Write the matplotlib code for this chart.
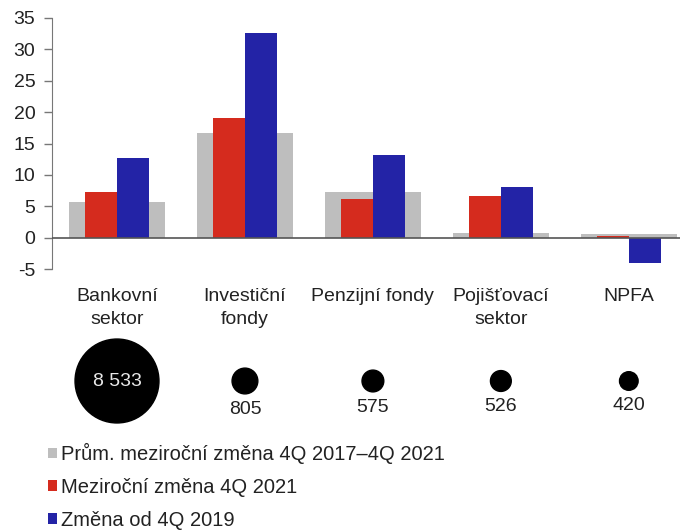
import matplotlib
matplotlib.use("Agg")
import matplotlib.pyplot as plt
import numpy as np

plt.rcParams["font.family"] = ["Liberation Sans", "DejaVu Sans"]
plt.rcParams["axes.unicode_minus"] = False

# data
sectors = ["Bankovní\nsektor", "Investiční\nfondy", "Penzijní fondy", "Pojišťovací\nsektor", "NPFA"]
avg_change = [5.6, 16.7, 7.2, 0.8, 0.5]      # Prům. meziroční změna 4Q 2017–4Q 2021
yoy_2021 = [7.2, 19.1, 6.2, 6.7, 0.3]        # Meziroční změna 4Q 2021
since_2019 = [12.7, 32.6, 13.2, 8.0, -4.0]   # Změna od 4Q 2019
assets = [8533, 805, 575, 526, 420]
asset_labels = ["8 533", "805", "575", "526", "420"]

legend_labels = ["Prům. meziroční změna 4Q 2017–4Q 2021",
                 "Meziroční změna 4Q 2021",
                 "Změna od 4Q 2019"]

GREY, RED, BLUE = "#bebebe", "#d52b1e", "#2323a6"
TXT = "#222222"
FS = 14

W, H = 681, 532
fig = plt.figure(figsize=(W / 100, H / 100), dpi=100)

# main bar axes
ax = fig.add_axes([52 / W, 1 - 269 / H, 628 / W, 251 / H])
x = np.arange(len(sectors))
b0 = ax.bar(x, avg_change, width=0.75, color=GREY, zorder=1)
b1 = ax.bar(x - 0.125, yoy_2021, width=0.25, color=RED, zorder=2)
b2 = ax.bar(x + 0.125, since_2019, width=0.25, color=BLUE, zorder=2)
ax.axhline(0, color="#555555", lw=1.2, zorder=3)

ax.set_xlim(-0.508, 4.4)
ax.set_ylim(-5, 35)
ax.set_yticks(range(-5, 40, 5))
ax.set_xticks(x)
ax.set_xticklabels(sectors, fontsize=FS, color=TXT, linespacing=1.4)
ax.tick_params(axis="x", length=0, pad=14)
ax.tick_params(axis="y", length=6, width=1, color="#777777", labelsize=FS,
               labelcolor=TXT, pad=6)
for s in ["top", "right", "bottom"]:
    ax.spines[s].set_visible(False)
ax.spines["left"].set_color("#777777")

# bubble axes
bx = fig.add_axes([52 / W, 1 - 426 / H, 628 / W, 90 / H], sharex=ax)
bx.set_ylim(-1, 1)
bx.axis("off")
sizes = 0.428 * np.array(assets)
bx.scatter(x, np.zeros_like(x), s=sizes, color="black", zorder=2)
for i, (v, lab) in enumerate(zip(sizes, asset_labels)):
    r = np.sqrt(v) / 2
    if i == 0:
        bx.text(x[i], 0, lab, color="#e8e8e8", fontsize=FS, ha="center", va="center")
    else:
        bx.annotate(lab, (x[i], 0), xytext=(0, -(r + 5)), textcoords="offset points",
                    ha="center", va="top", fontsize=FS, color=TXT)

fig.legend([b0, b1, b2], legend_labels, loc="upper left",
           bbox_to_anchor=(40 / W, 1 - 435 / H), frameon=False,
           fontsize=14.5, handlelength=0.42, handleheight=0.42,
           handletextpad=0.2, labelspacing=0.68, borderaxespad=0,
           labelcolor=TXT)

fig.savefig("out.png", dpi=100)
